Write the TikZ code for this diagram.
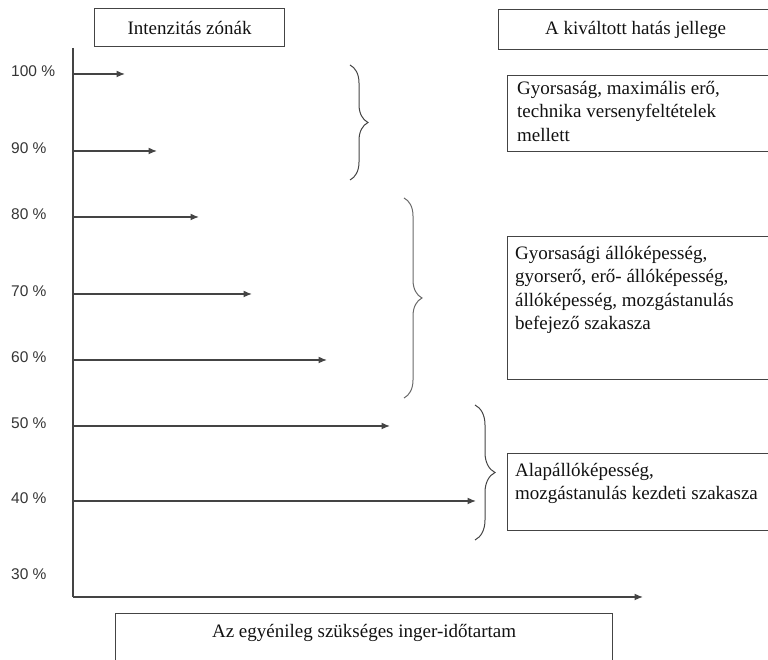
\documentclass[tikz,border=0pt]{standalone}
\usepackage{fontspec}
\setmainfont{Liberation Serif}
\newfontfamily\pctfont{Liberation Sans}
\usepackage{tikz}
\usetikzlibrary{arrows.meta}
\usetikzlibrary{positioning}
\usetikzlibrary{decorations.pathreplacing}

\definecolor{linegray}{HTML}{444444}
\definecolor{textgray}{HTML}{111111}

\tikzset{
  zonebox/.style={draw=linegray, line width=1.2pt, inner sep=0pt, anchor=north west,
    text=textgray, font=\fontsize{19}{23.5}\selectfont},
  boxtext/.style={inner sep=0pt, align=left, text=textgray, font=\fontsize{19}{23.5}\selectfont},
  pctlabel/.style={anchor=west, inner sep=0pt, text=textgray!85, font=\pctfont\fontsize{15.5}{18}\selectfont},
  levelarrow/.style={draw=linegray, line width=1.4pt, -{Latex[length=8.5pt,width=7pt]}},
  zonebrace/.style={draw=linegray, line width=1pt, decorate, decoration={brace, amplitude=18pt, aspect=0.5}},
}

\begin{document}
\begin{tikzpicture}[x=1pt, y=1pt]
    \useasboundingbox (0,0) rectangle (768,660);
    % headings
    \node[zonebox, minimum width=190pt, minimum height=38pt] (zonehead) at (94,652) {Intenzitás zónák};
    \node[zonebox, minimum width=274pt, minimum height=40pt] (effecthead) at (498,651) {A kiváltott hatás jellege};
    % axes
    \coordinate (origin) at (73,63);
    \coordinate (ytop) at (73,612);
    \coordinate (xend) at (643,63);
    \draw[draw=linegray, line width=1.4pt] (ytop) -- (origin);
    \draw[levelarrow] (origin) -- (xend);
    % intensity levels
    \foreach \lvl/\y/\tip in {100/586/125, 90/509/157, 80/443/199, 70/366/252, 60/300/327, 50/234/390, 40/159/476} {
        \node[pctlabel] (pct\lvl) at (11,\y+3) {\lvl\ \%};
        \coordinate (start\lvl) at (73,\y);
        \coordinate (tip\lvl) at (\tip,\y);
        \draw[levelarrow] (start\lvl) -- (tip\lvl);
    }
    \node[pctlabel] (pct30) at (11,86) {30 \%};
    % braces
    \draw[zonebrace] (350,595) -- (350,480);
    \draw[zonebrace, draw=linegray!80] (404,462) -- (404,262);
    \draw[zonebrace, decoration={amplitude=20pt}] (475,255) -- (475,120);
    % effect boxes
    \node[zonebox, minimum width=265pt, minimum height=76pt] (effect1) at (507,585) {};
    \node[boxtext, below right=6pt and 10pt of effect1.north west, anchor=north west] (effect1text)
        {Gyorsaság, maximális erő,\\technika versenyfeltételek\\mellett};
    \node[zonebox, minimum width=265pt, minimum height=143pt] (effect2) at (507,424) {};
    \node[boxtext, below right=10pt and 8pt of effect2.north west, anchor=north west] (effect2text)
        {Gyorsasági állóképesség,\\gyorserő, erő- állóképesség,\\állóképesség, mozgástanulás\\befejező szakasza};
    \node[zonebox, minimum width=265pt, minimum height=77pt] (effect3) at (507,207) {};
    \node[boxtext, below right=10pt and 8pt of effect3.north west, anchor=north west] (effect3text)
        {Alapállóképesség,\\mozgástanulás kezdeti szakasza};
    % time box
    \node[zonebox, minimum width=497pt, minimum height=60pt] (timebox) at (115,47) {};
    \node[boxtext, below=11pt of timebox.north, anchor=north] (timetext) {Az egyénileg szükséges inger-időtartam};
\end{tikzpicture}
\end{document}
